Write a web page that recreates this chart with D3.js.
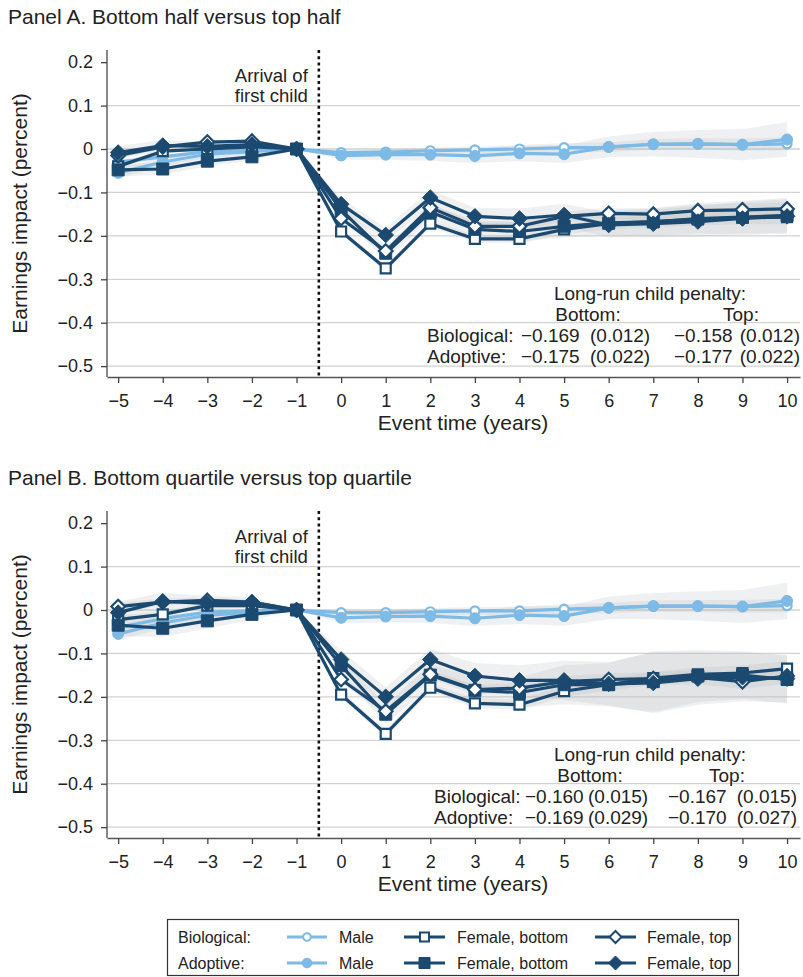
<!DOCTYPE html>
<html><head><meta charset="utf-8">
<script src="https://cdn.jsdelivr.net/npm/d3@7"></script>
<style>
body{margin:0;background:#fff}
svg{display:block}
text{font-family:"Liberation Sans",Arial,Helvetica,sans-serif;fill:#222}
</style>
</head><body>
<svg id="chart" width="803" height="977"></svg>
<script>
// ---------------- DATA ----------------
const eventTime = [-5,-4,-3,-2,-1,0,1,2,3,4,5,6,7,8,9,10];
const yTicks = [0.2,0.1,0,-0.1,-0.2,-0.3,-0.4,-0.5];
const gridTicks = [0.1,0,-0.1,-0.2,-0.3,-0.4,-0.5];

// Panel A
const bioMaleA      = [-0.030,-0.018,-0.006,-0.003,0,-0.008,-0.007,-0.004,-0.002,0.000,0.003,0.004,0.011,0.012,0.010,0.012];
const adoptMaleA    = [-0.055,-0.030,-0.012,-0.006,0,-0.015,-0.013,-0.013,-0.016,-0.010,-0.012,0.005,0.011,0.012,0.010,0.022];
const bioBottomA    = [-0.040,-0.005,0.000,0.005,0,-0.190,-0.275,-0.172,-0.207,-0.207,-0.185,-0.172,-0.167,-0.162,-0.158,-0.157];
const adoptBottomA  = [-0.048,-0.046,-0.028,-0.018,0,-0.140,-0.240,-0.145,-0.185,-0.190,-0.178,-0.170,-0.168,-0.160,-0.157,-0.153];
const bioTopA       = [-0.015,0.005,0.016,0.018,0,-0.160,-0.235,-0.135,-0.178,-0.178,-0.155,-0.148,-0.150,-0.142,-0.140,-0.138];
const adoptTopA     = [-0.008,0.008,0.006,0.010,0,-0.127,-0.198,-0.112,-0.155,-0.160,-0.152,-0.175,-0.172,-0.167,-0.160,-0.155];
const ciMaleBioA    = [0.006,0.005,0.004,0.003,0,0.005,0.006,0.007,0.008,0.009,0.010,0.011,0.012,0.013,0.014,0.015];
const ciMaleAdoptA  = [0.012,0.010,0.008,0.006,0,0.010,0.012,0.014,0.016,0.018,0.020,0.024,0.028,0.032,0.036,0.040];
const ciFemBioA     = [0.006,0.005,0.004,0.003,0,0.006,0.007,0.008,0.009,0.010,0.011,0.012,0.013,0.014,0.015,0.016];
const ciFemAdoptA   = [0.015,0.013,0.011,0.009,0,0.014,0.016,0.018,0.020,0.023,0.026,0.029,0.032,0.035,0.038,0.040];

// Panel B
const bioMaleB      = [-0.040,-0.020,-0.005,-0.002,0,-0.006,-0.006,-0.004,-0.002,-0.002,0.002,0.005,0.009,0.009,0.008,0.010];
const adoptMaleB    = [-0.055,-0.030,-0.012,-0.006,0,-0.018,-0.015,-0.014,-0.019,-0.012,-0.014,0.005,0.009,0.009,0.008,0.021];
const bioBottomB    = [-0.022,-0.010,0.010,0.010,0,-0.195,-0.285,-0.179,-0.215,-0.218,-0.187,-0.172,-0.157,-0.148,-0.145,-0.135];
const adoptBottomB  = [-0.035,-0.042,-0.025,-0.010,0,-0.128,-0.240,-0.150,-0.185,-0.190,-0.172,-0.172,-0.165,-0.152,-0.150,-0.160];
const bioTopB       = [0.008,0.018,0.022,0.018,0,-0.160,-0.233,-0.148,-0.183,-0.180,-0.165,-0.160,-0.158,-0.155,-0.165,-0.152];
const adoptTopB     = [-0.006,0.020,0.015,0.018,0,-0.114,-0.200,-0.114,-0.152,-0.162,-0.162,-0.170,-0.168,-0.158,-0.155,-0.158];
const ciMaleBioB    = [0.008,0.006,0.005,0.004,0,0.006,0.007,0.008,0.009,0.010,0.011,0.012,0.013,0.014,0.015,0.016];
const ciMaleAdoptB  = [0.015,0.012,0.010,0.008,0,0.012,0.014,0.016,0.018,0.020,0.022,0.026,0.030,0.034,0.038,0.042];
const ciFemBioB     = [0.010,0.008,0.007,0.005,0,0.008,0.009,0.010,0.011,0.012,0.013,0.014,0.015,0.016,0.017,0.018];
const ciFemAdoptB   = [0.025,0.020,0.017,0.013,0,0.020,0.022,0.025,0.030,0.035,0.045,0.050,0.070,0.060,0.055,0.055];

// Long-run penalty tables: [label, bottom est, bottom se, top est, top se]
const penaltyA = [["Biological:","\u22120.169","(0.012)","\u22120.158","(0.012)"],
                  ["Adoptive:","\u22120.175","(0.022)","\u22120.177","(0.022)"]];
const penaltyB = [["Biological:","\u22120.160","(0.015)","\u22120.167","(0.015)"],
                  ["Adoptive:","\u22120.169","(0.029)","\u22120.170","(0.027)"]];

const panelTitles = ["Panel A. Bottom half versus top half","Panel B. Bottom quartile versus top quartile"];
const legendRows = ["Biological:","Adoptive:"];
const legendItems = ["Male","Female, bottom","Female, top"];

// ---------------- STYLE ----------------
const LIGHT = "#7dbae5", DARK = "#1b4970";
const svg = d3.select("#chart");

const x = d3.scaleLinear().domain([-5.25,10.29]).range([107,800]);

function markerPath(type, s){
  if(type==="square"){ const h=s; return `M${-h},${-h}H${h}V${h}H${-h}Z`; }
  if(type==="diamond"){ const h=s; return `M0,${-h}L${h},0L0,${h}L${-h},0Z`; }
  return d3.arc()({innerRadius:0,outerRadius:s,startAngle:0,endAngle:2*Math.PI});
}
const markerSize = {circle:5.5, square:6, diamond:7.8};

function drawPanel(cfg){
  const g = svg.append("g");
  const top = cfg.top, bottom = cfg.top + 327;
  const y = d3.scaleLinear().domain([-0.525,0.228]).range([bottom, top]);

  g.append("text").attr("x",8).attr("y",cfg.top-26).attr("font-size",21).text(cfg.title);

  // grid
  g.selectAll(".grid").data(gridTicks).join("line")
    .attr("x1",107).attr("x2",800).attr("y1",d=>y(d)).attr("y2",d=>y(d))
    .attr("stroke","#d2d2d2").attr("stroke-width",1.3);

  // bands
  const area = d3.area().x((d,i)=>x(eventTime[i])).y0(d=>y(d[0]-d[1])).y1(d=>y(d[0]+d[1]));
  cfg.series.forEach(s=>{
    const pts = s.values.map((v,i)=>[v,s.ci[i]]);
    g.append("path").attr("d",area(pts)).attr("fill","#b8bcbf").attr("fill-opacity",0.22);
  });

  // dotted line at arrival
  g.append("line").attr("x1",x(-0.5)).attr("x2",x(-0.5)).attr("y1",top).attr("y2",bottom)
    .attr("stroke","#111").attr("stroke-width",2.6).attr("stroke-dasharray","3,3.2");
  g.append("text").attr("x",x(-0.5)-11).attr("y",top+32).attr("text-anchor","end").attr("font-size",18.5).text("Arrival of");
  g.append("text").attr("x",x(-0.5)-11).attr("y",top+52).attr("text-anchor","end").attr("font-size",18.5).text("first child");

  // lines and markers
  const line = d3.line().x((d,i)=>x(eventTime[i])).y(d=>y(d));
  cfg.series.forEach(s=>{
    g.append("path").attr("d",line(s.values)).attr("fill","none")
      .attr("stroke",s.color).attr("stroke-width",3.2).attr("stroke-linejoin","round");
  });
  cfg.series.forEach(s=>{
    g.selectAll(null).data(s.values).join("path")
      .attr("transform",(d,i)=>`translate(${x(eventTime[i])},${y(d)})`)
      .attr("d",markerPath(s.marker, s.hollow? markerSize[s.marker]-1 : markerSize[s.marker]))
      .attr("fill",s.hollow?"#fff":s.color)
      .attr("stroke",s.color).attr("stroke-width",s.hollow?2.2:1);
  });

  // axes
  const yAxis = d3.axisLeft(y).tickValues(yTicks).tickSize(6).tickPadding(8).tickSizeOuter(0)
    .tickFormat(d=> d===0 ? "0" : d3.format(".1f")(d));
  const ya = g.append("g").attr("transform","translate(107,0)").call(yAxis);
  const xAxis = d3.axisBottom(x).tickValues(eventTime).tickSize(6).tickPadding(11).tickSizeOuter(0)
    .tickFormat(d3.format("d"));
  const xa = g.append("g").attr("transform",`translate(0,${bottom})`).call(xAxis);
  [ya,xa].forEach(a=>{
    a.select(".domain").attr("stroke","#555").attr("stroke-width",1.4);
    a.selectAll(".tick line").attr("stroke","#444").attr("stroke-width",1.3);
    a.selectAll(".tick text").attr("font-size",18).attr("fill","#222")
      .style("font-family",'"Liberation Sans",Arial,sans-serif');
  });
  ya.select(".domain").attr("d",`M0,${top}V${bottom}`);

  g.append("text").attr("transform",`translate(27,${(top+bottom)/2}) rotate(-90)`)
    .attr("text-anchor","middle").attr("font-size",21).text("Earnings impact (percent)");
  g.append("text").attr("x",463).attr("y",bottom+53).attr("text-anchor","middle")
    .attr("font-size",21).text("Event time (years)");

  // penalty table
  const t = cfg.table, fs = 19;
  g.append("text").attr("x",650).attr("y",y(-0.4)-23).attr("text-anchor","middle").attr("font-size",fs).text("Long-run child penalty:");
  g.append("text").attr("x",t.bottomX).attr("y",y(-0.4)-2).attr("text-anchor","middle").attr("font-size",fs).text("Bottom:");
  g.append("text").attr("x",t.topX).attr("y",y(-0.4)-2).attr("text-anchor","middle").attr("font-size",fs).text("Top:");
  t.rows.forEach((r,i)=>{
    const yy = y(-0.4)+19+i*21;
    g.append("text").attr("x",t.cols[0]).attr("y",yy).attr("font-size",fs).text(r[0]);
    g.append("text").attr("x",t.cols[1]).attr("y",yy).attr("font-size",fs).text(r[1]);
    g.append("text").attr("x",t.cols[2]).attr("y",yy).attr("font-size",fs).text(r[2]);
    g.append("text").attr("x",t.cols[3]).attr("y",yy).attr("font-size",fs).text(r[3]);
    g.append("text").attr("x",t.cols[4]).attr("y",yy).attr("text-anchor","end").attr("font-size",fs).text(r[4]);
  });
}

function seriesSet(bm,am,bb,ab,bt,at,cmb,cma,cfb,cfa){
  return [
    {values:bm,ci:cmb,color:LIGHT,marker:"circle",hollow:true},
    {values:am,ci:cma,color:LIGHT,marker:"circle",hollow:false},
    {values:bb,ci:cfb,color:DARK,marker:"square",hollow:true},
    {values:ab,ci:cfa,color:DARK,marker:"square",hollow:false},
    {values:bt,ci:cfb,color:DARK,marker:"diamond",hollow:true},
    {values:at,ci:cfa,color:DARK,marker:"diamond",hollow:false}
  ];
}

drawPanel({top:50,title:panelTitles[0],
  series:seriesSet(bioMaleA,adoptMaleA,bioBottomA,adoptBottomA,bioTopA,adoptTopA,ciMaleBioA,ciMaleAdoptA,ciFemBioA,ciFemAdoptA),
  table:{rows:penaltyA,bottomX:588,topX:741,cols:[427,521,590,674,800]}});
drawPanel({top:511,title:panelTitles[1],
  series:seriesSet(bioMaleB,adoptMaleB,bioBottomB,adoptBottomB,bioTopB,adoptTopB,ciMaleBioB,ciMaleAdoptB,ciFemBioB,ciFemAdoptB),
  table:{rows:penaltyB,bottomX:590,topX:727,cols:[434,525,588,668,797]}});

// ---------------- LEGEND ----------------
const lg = svg.append("g");
lg.append("rect").attr("x",167.5).attr("y",919.5).attr("width",571).attr("height",56)
  .attr("fill","#fff").attr("stroke","#333").attr("stroke-width",1.2);
const legendCols = [{x1:287,x2:327,m:"circle",c:LIGHT,tx:339},
                    {x1:404,x2:445,m:"square",c:DARK,tx:457},
                    {x1:595,x2:636,m:"diamond",c:DARK,tx:647}];
legendRows.forEach((lab,ri)=>{
  const cy = 937 + ri*26;
  lg.append("text").attr("x",178).attr("y",cy+5.5).attr("font-size",16).text(lab);
  legendCols.forEach((c,ci)=>{
    lg.append("line").attr("x1",c.x1).attr("x2",c.x2).attr("y1",cy).attr("y2",cy)
      .attr("stroke",c.c).attr("stroke-width",3);
    const hollow = ri===0;
    const sz = {circle:4.8,square:5.5,diamond:7}[c.m];
    lg.append("path").attr("transform",`translate(${(c.x1+c.x2)/2},${cy})`)
      .attr("d",markerPath(c.m, hollow? sz-1 : sz))
      .attr("fill",hollow?"#fff":c.c).attr("stroke",c.c).attr("stroke-width",hollow?2:1);
    lg.append("text").attr("x",c.tx).attr("y",cy+5.5).attr("font-size",16).text(legendItems[ci]);
  });
});
</script>
</body></html>
